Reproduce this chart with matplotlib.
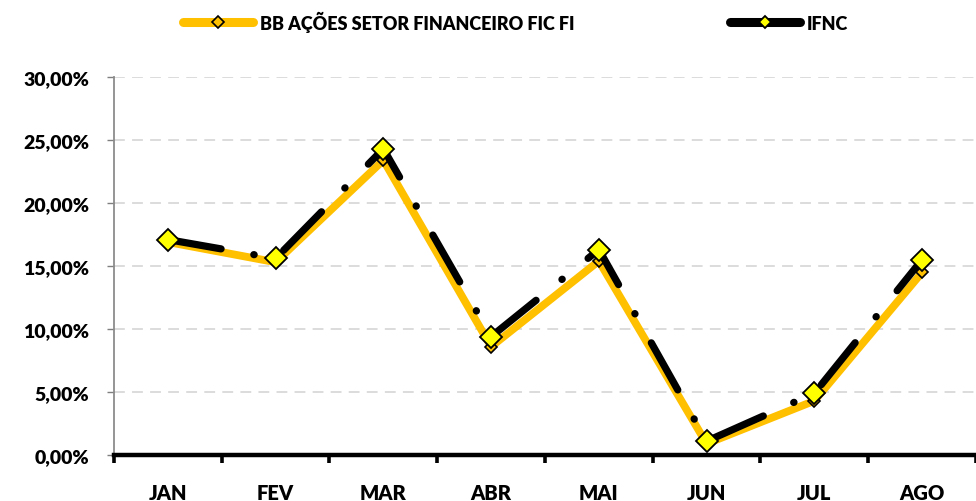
import matplotlib.pyplot as plt
import numpy as np
from matplotlib.ticker import FuncFormatter, FixedLocator

plt.rcParams['font.family'] = ['Lato', 'DejaVu Sans']
plt.rcParams['font.weight'] = 'heavy'

# dados (rentabilidade acumulada, %)
meses = ['JAN', 'FEV', 'MAR', 'ABR', 'MAI', 'JUN', 'JUL', 'AGO']
bb_fundo = [16.9, 15.3, 23.4, 8.6, 15.4, 0.9, 4.3, 14.5]
ifnc = [17.1, 15.6, 24.3, 9.4, 16.3, 1.1, 4.9, 15.5]

nome_fundo = 'BB AÇÕES SETOR FINANCEIRO FIC FI'
nome_indice = 'IFNC'

fig = plt.figure(figsize=(9.76, 5.02), dpi=100)
ax = fig.add_axes([0.1168, 0.0916, 0.8832, 0.753])

x = np.arange(len(meses))

ax.plot(x, bb_fundo, color='#FFC000', lw=5.6, solid_joinstyle='miter',
        marker='D', ms=6, mfc='#FFC000', mec='black', mew=1.2,
        label=nome_fundo, zorder=3)
# traço longo - ponto
ax.plot(x, ifnc, color='black', lw=5.2, dash_capstyle='round',
        linestyle=(0, (7.48, 4.6, 0.05, 4.6)),
        marker='D', ms=11.5, mfc='#FFFF00', mec='black', mew=1.3,
        label=nome_indice, zorder=4)

ax.set_xlim(-0.5, len(meses) - 0.5)
ax.set_ylim(0, 30)
ax.set_yticks(np.arange(0, 31, 5))
ax.yaxis.set_major_formatter(FuncFormatter(lambda v, p: f'{v:.2f}%'.replace('.', ',')))

ax.set_xticks(x)
ax.set_xticklabels(meses)
ax.xaxis.set_minor_locator(FixedLocator(np.arange(-0.5, len(meses), 1)))
ax.tick_params(axis='x', which='major', length=0, pad=20, labelsize=14.5)
ax.tick_params(axis='x', which='minor', length=6, width=2.6, color='black', direction='out')
ax.tick_params(axis='y', which='major', length=5, width=1, color='#7F7F7F', pad=13, labelsize=14)

for lab in ax.get_xticklabels() + ax.get_yticklabels():
    lab.set_fontweight('heavy')

ax.grid(axis='y', color='#D9D9D9', linestyle=(0, (6, 4)), linewidth=1.3)
ax.set_axisbelow(True)

for s in ['top', 'right']:
    ax.spines[s].set_visible(False)
ax.spines['left'].set_color('#8C8C8C')
ax.spines['left'].set_linewidth(1.3)
ax.spines['bottom'].set_color('black')
ax.spines['bottom'].set_linewidth(3.2)
ax.spines['bottom'].set_zorder(5)

leg = fig.legend(loc='center', bbox_to_anchor=(0.528, 0.956), ncol=2, frameon=False,
                 handlelength=3.9, handletextpad=0.35, columnspacing=8.6,
                 prop={'weight': 'heavy', 'size': 13})
for h in leg.legend_handles:
    h.set_linestyle('-')
    h.set_linewidth(6.5)
    h.set_solid_capstyle('round')
    h.set_markersize(6)

fig.savefig('out.png', dpi=100)
